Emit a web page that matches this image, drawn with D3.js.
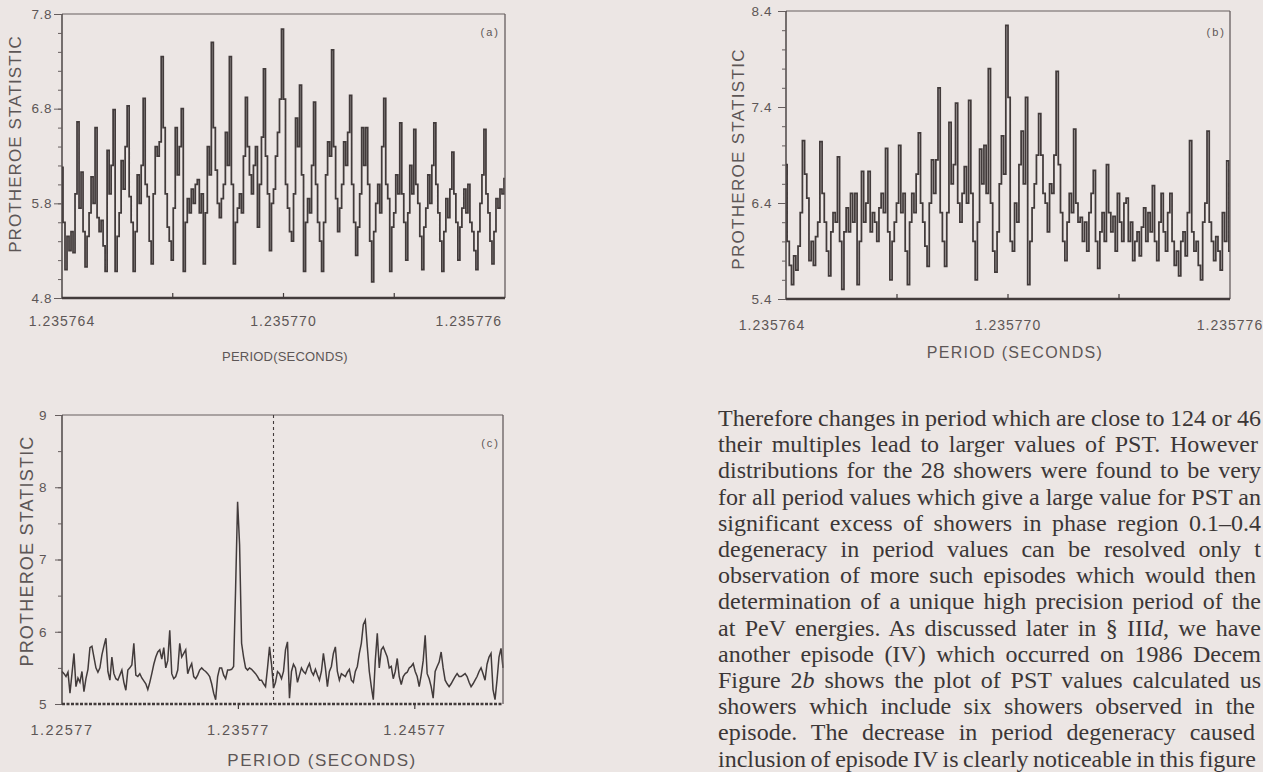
<!DOCTYPE html>
<html>
<head>
<meta charset="utf-8">
<script src="https://cdn.jsdelivr.net/npm/d3@7"></script>
<style>
  html, body { margin: 0; padding: 0; background: #ece6e4; overflow: hidden; }
  svg { display: block; }
  .lab { font-family: "Liberation Sans", Arial, sans-serif; fill: #5d5656; }
  .body { font-family: "Liberation Serif", "Times New Roman", serif; fill: #3b3636; font-size: 24px; }
</style>
</head>
<body>
<svg id="page" width="1263" height="772"></svg>
<script>
// ---- data ----
// (a) PST vs period, 28 showers
var periodRangeA = [1.235764, 1.235776];
var xTicksA = [1.235764, 1.235770, 1.235776];
var xMinorA = [1.235767, 1.235773];
var yTicksA = [4.8, 5.8, 6.8, 7.8];
var valuesA = [
  6.18,5.6,5.1,5.45,5.3,5.5,5.28,5.9,6.66,5.75,
  6.13,5.5,5.13,5.45,5.7,6.08,5.8,6.6,5.65,5.5,
  5.62,5.35,5.08,6.36,5.9,6.2,6.79,5.08,5.45,5.7,
  6.25,5.95,6.4,6.83,5.87,5.6,5.08,5.5,6.1,5.8,
  6.2,6.91,6.0,5.87,5.4,5.16,5.9,6.4,6.3,6.45,
  7.35,6.6,5.9,5.55,5.4,5.2,5.75,6.6,6.1,6.4,
  6.8,5.08,5.6,5.85,5.7,5.95,5.8,6.0,6.05,5.7,
  5.9,5.16,5.7,6.4,6.1,7.5,6.6,6.15,5.8,5.65,
  5.85,6.0,6.55,6.2,7.35,6.0,5.16,5.6,5.75,5.9,
  5.7,6.3,6.92,6.4,6.1,5.9,6.2,6.4,5.55,6.0,
  6.5,7.22,6.3,5.9,5.3,5.8,5.95,6.3,6.55,6.9,
  7.64,6.9,6.0,5.75,5.5,5.4,5.9,6.7,6.4,7.05,
  6.1,5.08,5.6,5.85,5.7,6.2,6.87,6.0,5.6,5.4,
  5.08,5.6,6.1,6.45,6.3,7.42,6.4,5.85,5.5,5.75,
  6.0,6.45,6.2,6.55,6.94,6.0,5.6,5.25,5.55,5.9,
  6.6,6.2,6.6,6.0,5.4,4.97,5.5,5.8,6.0,5.7,
  6.4,6.91,6.0,5.85,5.08,5.55,5.7,6.1,5.9,6.65,
  5.9,5.6,5.2,5.7,6.2,5.9,6.58,6.0,5.8,5.45,
  5.1,5.55,5.75,6.1,5.8,6.2,6.65,6.0,5.7,5.4,
  5.08,5.5,5.85,5.65,5.95,6.34,5.9,5.6,5.2,5.55,
  5.75,5.95,5.7,6.0,5.6,5.5,5.3,5.1,5.5,5.8,
  6.1,6.58,5.9,5.7,5.4,5.16,5.5,5.85,5.75,5.95,
  5.9,6.06
];

// (b) PST vs period, including episode IV
var periodRangeB = [1.235764, 1.235776];
var xTicksB = [1.235764, 1.235770, 1.235776];
var xMinorB = [1.235767, 1.235773];
var yTicksB = [5.4, 6.4, 7.4, 8.4];
var valuesB = [
  6.8,6.0,5.75,5.55,5.85,5.7,5.95,6.3,7.05,6.7,
  6.45,5.8,6.0,5.75,6.05,6.2,7.04,6.5,6.2,5.9,
  5.64,6.1,6.3,6.2,6.88,6.0,5.5,6.1,6.35,6.1,
  6.5,6.2,6.5,5.55,6.0,6.73,6.2,6.4,6.73,6.1,
  6.3,6.2,6.0,6.35,6.5,6.3,6.97,6.1,5.6,6.0,
  6.2,6.4,7.0,6.3,6.5,5.9,5.55,6.2,6.5,6.3,
  6.7,7.13,6.4,6.2,5.95,5.74,6.4,6.85,6.5,6.85,
  7.6,6.3,6.0,5.74,6.3,7.24,6.6,6.8,7.44,6.4,
  6.2,6.5,6.78,6.4,7.47,6.5,6.0,5.6,6.2,6.96,
  6.6,7.0,6.5,7.8,6.4,5.9,5.68,6.1,6.6,7.1,
  6.7,8.25,7.5,6.0,5.9,6.4,6.2,6.8,7.15,6.6,
  7.5,5.55,6.0,6.35,6.6,6.9,7.33,6.9,6.5,6.4,
  6.1,6.6,6.5,6.9,7.77,6.8,6.3,6.0,5.8,6.2,
  6.5,6.3,7.17,6.4,6.2,6.25,6.0,6.2,5.9,6.3,
  6.5,6.74,6.0,5.72,6.1,6.3,6.0,6.8,6.3,6.1,
  6.26,5.9,6.5,6.2,6.0,6.4,6.45,6.0,6.2,5.8,
  6.0,6.1,5.85,6.15,6.35,6.0,6.3,6.1,6.58,6.0,
  5.8,6.2,6.5,6.1,5.9,6.3,6.5,6.0,5.75,5.9,
  5.64,6.0,6.1,5.85,6.3,7.05,6.1,5.9,6.0,5.75,
  5.6,6.2,6.4,7.15,6.2,6.0,5.8,6.05,5.9,5.7,
  6.3,6.0,6.84,5.9
];

// (c) PST over a wide period range
var periodRangeC = [1.22577, 1.25077];
var xTicksC = [1.22577, 1.23577, 1.24577];
var yTicksC = [5, 6, 7, 8, 9];
var markerPeriodC = 1.23776;
var valuesC = [
  5.45,5.42,5.38,5.44,5.15,5.42,5.7,5.24,5.36,5.3,
  5.45,5.17,5.35,5.48,5.78,5.8,5.65,5.5,5.44,5.5,
  5.68,5.8,5.91,5.45,5.33,5.65,5.42,5.35,5.33,5.4,
  5.47,5.3,5.19,5.47,5.5,5.54,5.84,5.4,5.38,5.42,
  5.36,5.32,5.28,5.2,5.3,5.42,5.55,5.65,5.72,5.75,
  5.62,5.78,5.5,5.6,6.02,5.42,5.35,5.38,5.47,5.84,
  5.65,5.7,5.75,5.42,5.5,5.56,5.38,5.35,5.4,5.47,
  5.5,5.47,5.45,5.42,5.38,5.28,5.15,5.06,5.38,5.5,
  5.5,5.4,5.35,5.47,5.47,5.48,5.52,6.6,7.8,7.2,
  5.84,5.65,5.5,5.47,5.5,5.48,5.45,5.42,5.38,5.33,
  5.33,5.28,5.24,5.5,5.79,5.55,5.22,5.3,5.45,5.42,
  5.35,5.45,5.75,5.86,5.08,5.45,5.55,5.5,5.3,5.4,
  5.5,5.45,5.42,5.5,5.56,5.45,5.4,5.48,5.4,5.33,
  5.45,5.7,5.5,5.24,5.45,5.52,5.7,5.79,5.45,5.33,
  5.42,5.4,5.38,5.44,5.48,5.33,5.3,5.45,5.52,5.7,
  5.84,6.1,6.16,5.79,5.45,5.24,5.06,5.6,5.98,5.5,
  5.75,5.79,5.72,5.65,5.5,5.52,5.35,5.45,5.63,5.38,
  5.27,5.38,5.42,5.44,5.5,5.52,5.56,5.45,5.38,5.24,
  5.4,5.6,5.95,5.42,5.35,5.24,5.08,5.45,5.52,5.58,
  5.72,5.5,5.33,5.28,5.24,5.28,5.33,5.38,5.42,5.38,
  5.38,5.4,5.42,5.38,5.3,5.24,5.28,5.33,5.38,5.45,
  5.5,5.42,5.33,5.55,5.65,5.7,5.2,5.06,5.33,5.65,
  5.77,5.5
];

// body text beside panel (c), as much of each line as the page shows; *x* marks italics
var bodyLines = [
  "Therefore changes in period which are close to 124 or 46",
  "their multiples lead to larger values of PST. However",
  "distributions for the 28 showers were found to be very",
  "for all period values which give a large value for PST an",
  "significant excess of showers in phase region 0.1\u20130.4",
  "degeneracy in period values can be resolved only t",
  "observation of more such episodes which would then",
  "determination of a unique high precision period of the",
  "at PeV energies. As discussed later in \u00a7 III*d*, we have",
  "another episode (IV) which occurred on 1986 Decem",
  "Figure 2*b* shows the plot of PST values calculated us",
  "showers which include six showers observed in the",
  "episode. The decrease in period degeneracy caused",
  "inclusion of episode IV is clearly noticeable in this figure"
];
var bodyLineEnds = [1261, 1258, 1261, 1261, 1261, 1261, 1256, 1261, 1261, 1261, 1261, 1255, 1255, 1256];

// ---- drawing ----
var ink = '#423b3b';
var frameInk = '#665e5e';
var svg = d3.select('#page');
svg.append('rect').attr('width', 1263).attr('height', 772).attr('fill', '#ece6e4');

var panels = [
  { id: 'a', box: { l: 62, r: 505, t: 14, b: 298 }, xDomain: periodRangeA, yDomain: [4.8, 7.8],
    values: valuesA, yTicks: yTicksA, yMinor: 0.2, xTicks: xTicksA, xMinor: xMinorA,
    xFmt: d3.format('.6f'), yFmt: d3.format('.1f'), curve: d3.curveStep, lw: 1.75,
    tag: '(a)', tagX: 500, tagY: 36,
    xTitle: 'PERIOD(SECONDS)', xTitleX: 285, xTitleY: 361, xTitleSize: 13, xTitleLs: 0.2,
    yTitleX: 21, yTitleY: 144, yTitleSize: 17, yTitleLs: 1.1,
    tickLabelY: 326, tickLabelSize: 14, tickLabelLs: 1, labelShift: [0, 0, 0], lastEnd: 502,
    yTickSize: 8, yPad: 2, bottomDashed: false, xTickDir: -1 },
  { id: 'b', box: { l: 786, r: 1230, t: 11, b: 299 }, xDomain: periodRangeB, yDomain: [5.4, 8.4],
    values: valuesB, yTicks: yTicksB, yMinor: 0.2, xTicks: xTicksB, xMinor: xMinorB,
    xFmt: d3.format('.6f'), yFmt: d3.format('.1f'), curve: d3.curveStep, lw: 1.75,
    tag: '(b)', tagX: 1226, tagY: 36,
    xTitle: 'PERIOD (SECONDS)', xTitleX: 1015, xTitleY: 358, xTitleSize: 16, xTitleLs: 1.3,
    yTitleX: 744, yTitleY: 159, yTitleSize: 17, yTitleLs: 1.3,
    tickLabelY: 330, tickLabelSize: 14, tickLabelLs: 1, labelShift: [-14, 0, 0], lastEnd: null,
    yTickSize: 8, yPad: 6, bottomDashed: false, xTickDir: -1 },
  { id: 'c', box: { l: 62, r: 503, t: 415, b: 704 }, xDomain: periodRangeC, yDomain: [5, 9],
    values: valuesC, yTicks: yTicksC, yMinor: 0.5, xTicks: xTicksC, xMinor: [],
    xFmt: d3.format('.5f'), yFmt: d3.format('d'), curve: d3.curveLinear, lw: 1.5,
    tag: '(c)', tagX: 500, tagY: 447,
    xTitle: 'PERIOD (SECONDS)', xTitleX: 322, xTitleY: 766, xTitleSize: 17, xTitleLs: 1.5,
    yTitleX: 33, yTitleY: 551, yTitleSize: 18, yTitleLs: 1.2,
    tickLabelY: 735, tickLabelSize: 14.5, tickLabelLs: 1.5, labelShift: [0, 0, 0], lastEnd: null,
    yTickSize: 7, yPad: 8, bottomDashed: true, xTickDir: 1, marker: markerPeriodC }
];

panels.forEach(drawPanel);

function drawPanel(p) {
  var x = d3.scaleLinear().domain(p.xDomain).range([p.box.l, p.box.r]);
  var y = d3.scaleLinear().domain(p.yDomain).range([p.box.b, p.box.t]);
  // sample index -> period (uniform period grid of the search)
  var idx = d3.scaleLinear().domain([0, p.values.length - 1]).range(p.xDomain);
  var g = svg.append('g').attr('class', 'panel panel-' + p.id);

  var line = d3.line()
    .x(function (d, i) { return x(idx(i)); })
    .y(function (d) { return y(d); })
    .curve(p.curve);

  g.append('path')
    .datum(p.values)
    .attr('d', line)
    .attr('fill', 'none')
    .attr('stroke', ink)
    .attr('stroke-width', p.lw)
    .attr('stroke-linejoin', 'miter');

  // frame: top, right thin; left axis; bottom heavy
  g.append('line').attr('x1', p.box.l).attr('x2', p.box.r).attr('y1', p.box.t).attr('y2', p.box.t)
    .attr('stroke', frameInk).attr('stroke-width', 1);
  g.append('line').attr('x1', p.box.r).attr('x2', p.box.r).attr('y1', p.box.t).attr('y2', p.box.b)
    .attr('stroke', frameInk).attr('stroke-width', 1.3);
  g.append('line').attr('x1', p.box.l).attr('x2', p.box.l).attr('y1', p.box.t).attr('y2', p.box.b)
    .attr('stroke', ink).attr('stroke-width', 1.4);
  var bottom = g.append('line').attr('x1', p.box.l).attr('x2', p.box.r).attr('y1', p.box.b).attr('y2', p.box.b)
    .attr('stroke', ink).attr('stroke-width', 2.4);
  if (p.bottomDashed) bottom.attr('stroke-dasharray', '3,1.5').attr('stroke-width', 2.6);

  if (p.marker) {
    g.append('line')
      .attr('x1', x(p.marker)).attr('x2', x(p.marker))
      .attr('y1', p.box.t).attr('y2', p.box.b)
      .attr('stroke', ink).attr('stroke-width', 1.1).attr('stroke-dasharray', '3,3');
  }

  // y axis: major ticks with labels, minor ticks
  var n = Math.round((p.yDomain[1] - p.yDomain[0]) / p.yMinor);
  var minor = d3.range(n + 1).map(function (k) { return p.yDomain[0] + k * p.yMinor; });
  var yMinorAxis = g.append('g').attr('transform', 'translate(' + p.box.l + ',0)')
    .call(d3.axisLeft(y).tickValues(minor).tickSize(4).tickFormat(''));
  var yAxis = g.append('g').attr('transform', 'translate(' + p.box.l + ',0)')
    .call(d3.axisLeft(y).tickValues(p.yTicks).tickSize(p.yTickSize).tickPadding(p.yPad).tickFormat(p.yFmt));
  [yMinorAxis, yAxis].forEach(function (a) {
    a.select('.domain').remove();
    a.selectAll('line').attr('stroke', frameInk).attr('stroke-width', 1);
  });
  yAxis.selectAll('text')
    .attr('class', 'lab')
    .style('font-size', '13.5px')
    .style('letter-spacing', '0.6px')
    .attr('fill', null);

  // x ticks on the bottom axis
  var xt = p.xTicks.concat(p.xMinor).filter(function (v) { return x(v) > p.box.l + 1 && x(v) < p.box.r - 1; });
  g.selectAll('line.xtick').data(xt).enter().append('line')
    .attr('class', 'xtick')
    .attr('x1', function (d) { return x(d); }).attr('x2', function (d) { return x(d); })
    .attr('y1', p.box.b).attr('y2', p.box.b + p.xTickDir * 5)
    .attr('stroke', ink).attr('stroke-width', 1.2);

  g.selectAll('text.xlab').data(p.xTicks).enter().append('text')
    .attr('class', 'lab xlab')
    .attr('x', function (d, i) {
      if (i === p.xTicks.length - 1 && p.lastEnd) return p.lastEnd;
      return x(d) + p.labelShift[i];
    })
    .attr('y', p.tickLabelY)
    .attr('text-anchor', function (d, i) { return (i === p.xTicks.length - 1 && p.lastEnd) ? 'end' : 'middle'; })
    .style('font-size', p.tickLabelSize + 'px')
    .style('letter-spacing', p.tickLabelLs + 'px')
    .text(p.xFmt);

  // titles
  g.append('text').attr('class', 'lab')
    .attr('x', p.xTitleX).attr('y', p.xTitleY)
    .attr('text-anchor', 'middle')
    .style('font-size', p.xTitleSize + 'px')
    .style('letter-spacing', p.xTitleLs + 'px')
    .text(p.xTitle);

  g.append('text').attr('class', 'lab')
    .attr('transform', 'translate(' + p.yTitleX + ',' + p.yTitleY + ') rotate(-90)')
    .attr('text-anchor', 'middle')
    .style('font-size', p.yTitleSize + 'px')
    .style('letter-spacing', p.yTitleLs + 'px')
    .text('PROTHEROE STATISTIC');

  g.append('text').attr('class', 'lab')
    .attr('x', p.tagX).attr('y', p.tagY)
    .attr('text-anchor', 'end')
    .style('font-size', '11px')
    .style('letter-spacing', '2px')
    .text(p.tag);
}

// justified body text (each line stretched by its word spacing)
var textLeft = 718;
bodyLines.forEach(function (str, k) {
  var t = svg.append('text').attr('class', 'body')
    .attr('x', textLeft)
    .attr('y', 426 + k * 26.2);
  str.split(/(\*[^*]+\*)/).forEach(function (seg) {
    if (!seg) return;
    var it = seg.charAt(0) === '*';
    t.append('tspan')
      .style('font-style', it ? 'italic' : null)
      .text(it ? seg.slice(1, -1) : seg);
  });
  var natural = t.node().getComputedTextLength();
  var spaces = (str.match(/ /g) || []).length;
  var extra = (bodyLineEnds[k] - textLeft - natural) / spaces;
  t.attr('word-spacing', extra.toFixed(2));
});
</script>
</body>
</html>
